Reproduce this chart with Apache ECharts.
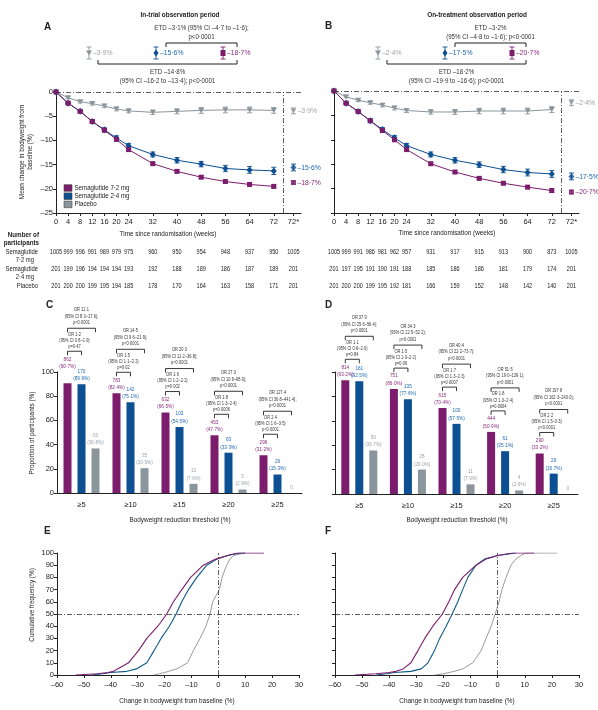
<!DOCTYPE html>
<html><head><meta charset="utf-8">
<script src="https://cdn.jsdelivr.net/npm/echarts@6/dist/echarts.min.js"></script>
<style>html,body{margin:0;padding:0;background:#fff}#c{width:598px;height:710px}</style>
</head><body><div id="c"></div>
<script>
// ---------------- DATA ----------------
const weeks = [0,4,8,12,16,20,24,32,40,48,56,64,72];
const trialP = [0,-2.3,-4.0,-6.1,-7.9,-9.8,-11.9,-14.8,-16.4,-17.6,-18.5,-19.1,-19.5];
const trialB = [0,-2.3,-4.0,-6.1,-7.8,-9.5,-11.1,-12.9,-14.1,-14.9,-15.8,-16.1,-16.3];
const trialG = [0,-1.2,-2.0,-2.4,-2.9,-3.5,-3.9,-4.2,-4.0,-3.8,-3.7,-3.7,-3.8];
const trialErrP = [0,0.15,0.2,0.2,0.2,0.25,0.25,0.25,0.3,0.3,0.3,0.3,0.3];
const trialErrB = [0,0.25,0.3,0.35,0.4,0.45,0.45,0.5,0.55,0.55,0.65,0.7,0.75];
const trialErrG = [0,0.2,0.25,0.3,0.35,0.4,0.4,0.45,0.5,0.6,0.6,0.6,0.6];
const treatP = [0,-2.5,-4.2,-6.1,-8.1,-10.0,-12.0,-14.9,-16.6,-17.9,-18.9,-19.7,-20.4];
const treatB = [0,-2.5,-4.2,-6.1,-7.9,-9.6,-11.2,-13.0,-14.2,-15.1,-16.1,-16.7,-17.0];
const treatG = [0,-1.2,-1.9,-2.4,-2.9,-3.5,-4.0,-4.3,-4.3,-4.1,-4.1,-4.1,-3.8];
const treatErrP = [0,0.15,0.2,0.2,0.2,0.25,0.25,0.25,0.3,0.3,0.3,0.3,0.35];
const treatErrB = [0,0.25,0.3,0.35,0.4,0.45,0.45,0.5,0.55,0.55,0.65,0.7,0.7];
const treatErrG = [0,0.2,0.25,0.3,0.35,0.4,0.4,0.45,0.5,0.55,0.6,0.6,0.6];
// final (72*) values, order: placebo, 2.4 mg, 7.2 mg
const finalTrial = [-3.9,-15.6,-18.7];
const finalTrialErr = [0.6,0.7,0.3];
const finalTreat = [-2.4,-17.5,-20.7];
const finalTreatErr = [0.6,0.7,0.35];
const etdTrialUpper = "ETD –3·1% (95% CI –4·7 to –1·6);\np<0·0001";
const etdTrialLower = "ETD –14·8%\n(95% CI –16·2 to –13·4); p<0·0001";
const etdTreatUpper = "ETD –3·2%\n(95% CI –4·8 to –1·6); p<0·0001";
const etdTreatLower = "ETD –18·2%\n(95% CI –19·9 to –16·6); p<0·0001";
// number of participants (weeks + 72*)
const nTrialP = [1005,999,996,991,989,979,975,960,950,954,948,937,950,1005];
const nTrialB = [201,199,196,194,194,194,193,192,188,189,186,187,189,201];
const nTrialG = [201,200,200,199,195,194,185,178,170,164,163,158,171,201];
const nTreatP = [1005,999,991,986,981,962,957,931,917,915,913,900,873,1005];
const nTreatB = [201,197,195,191,190,191,188,185,186,186,181,179,174,201];
const nTreatG = [201,200,200,199,195,192,181,166,159,152,148,142,140,201];
// Bodyweight reduction thresholds
const thresholds = ['≥5','≥10','≥15','≥20','≥25'];
const cNP = [862,783,632,453,296], cPctP = [90.7,82.4,66.5,47.7,31.2];
const cNB = [170,142,103,63,29], cPctB = [89.9,75.1,54.5,33.3,15.3];
const cNG = [63,35,13,5,0], cPctG = [36.8,20.5,7.6,2.9,0];
const cOrSmall = [['OR 1·2','(95% CI 0·8–1·9)','p=0·47'],['OR 1·5','(95% CI 1·1–2·2)','p=0·02'],['OR 1·6','(95% CI 1·2–2·2)','p=0·002'],['OR 1·8','(95% CI 1·3–2·4)','p=0·0006'],['OR 2·4','(95% CI 1·6–3·5)','p<0·0001']];
const cOrBig = [['OR 12·1','(95% CI 8·3–17·6);','p<0·0001'],['OR 14·5','(95% CI 9·6–21·9);','p<0·0001'],['OR 20·3','(95% CI 11·2–36·8);','p<0·0001'],['OR 27·3','(95% CI 10·9–68·0);','p<0·0001'],['OR 127·4','(95% CI 36·8–441·4);','p<0·0001']];
const dNP = [814,751,615,444,290], dPctP = [93.2,86.0,70.4,50.9,33.2];
const dNB = [161,135,100,61,29], dPctB = [92.5,77.6,57.5,35.1,16.7];
const dNG = [50,28,11,4,0], dPctG = [35.7,20.0,7.9,2.9,0];
const dOrSmall = [['OR 1·1','(95% CI 0·6–2·0)','p=0·84'],['OR 1·5','(95% CI 1·0–2·2)','p=0·06'],['OR 1·7','(95% CI 1·3–2·3)','p=0·0007'],['OR 1·8','(95% CI 1·3–2·4)','p=0·0004'],['OR 2·2','(95% CI 1·5–3·3)','p<0·0001']];
const dOrBig = [['OR 37·9','(95% CI 25·6–56·4);','p<0·0001'],['OR 34·3','(95% CI 22·5–52·2);','p<0·0001'],['OR 40·4','(95% CI 22·2–73·7);','p<0·0001'],['OR 51·5','(95% CI 19·0–139·1);','p<0·0001'],['OR 197·8','(95% CI 162·3–243·0);','p<0·0001']];
// Cumulative distributions: cumulative frequency levels and change (%) at each level
const cumLevels = [0,1,2,3,5,10,20,30,40,50,60,70,80,90,95,98,100,100];
const eX_P = [-53,-45,-41,-39,-37.5,-33.4,-29.7,-26.6,-22.5,-19.2,-16.7,-13.6,-10.3,-5.6,-1.0,3.5,7,17];
const eX_B = [-47,-43,-40,-34,-30.5,-26.6,-23.9,-21.3,-18.2,-15.7,-13.6,-11.1,-8.0,-4.3,-0.5,3.5,8,10];
const eX_G = [-24,-22,-20,-18.5,-15.5,-11.4,-9.3,-6.8,-4.6,-3.1,-2.1,0.4,1.4,3.1,4.3,5.8,9.9,9.9];
const fX_P = [-52.6,-45,-40,-37.5,-34.9,-32,-29.4,-26.9,-23.9,-20.4,-18,-15.9,-12.9,-8,-4.3,0,5.5,13.5];
const fX_B = [-44.7,-41,-38,-32,-28.2,-25.7,-23.3,-21.4,-19,-16.8,-14.7,-12.9,-11,-8,-4.9,0,6.7,6.7];
const fX_G = [-23.3,-20,-18,-16,-12.9,-9.2,-6.1,-4.3,-2.4,-0.9,0.5,1.6,3.1,4.9,6.7,8.5,10.4,22];

// ---------------- STYLE / LAYOUT ----------------
const FONT = "'Liberation Sans','Arimo',Arial,sans-serif";
const COL = {p:'#7b1d6c', b:'#0c4f93', g:'#8b959c'};
const TXT = {p:'#8a2a7b', b:'#1b66b0', g:'#9aa3aa', k:'#333'};
const ECOL = {p:'#7b1d6c', b:'#0f5a8a', g:'#8e8e8e'};
const NAMES = ['Semaglutide 7·2 mg','Semaglutide 2·4 mg','Placebo'];
const DASH = [5,2,1,2];
const STAR = 78.5;
const fmt = v => (v<0?'–':'') + Math.abs(v).toFixed(1).replace('.','·');
const negLab = v => String(v).replace('-','–');

const axisLineS = {lineStyle:{color:'#222',width:1}};
const tickS = {length:3, lineStyle:{color:'#222',width:1}};
const labS = {fontFamily:FONT, fontSize:7.5, color:'#222', margin:3};

// narrow text element (used in custom series and graphic)
function T(text, x, y, o){
  o = o||{};
  return {type:'text', x:x, y:y, scaleX:o.sx||0.8, rotation:o.rot||0, silent:true,
    style:{text:text, x:0, y:0, align:o.align||'center', verticalAlign:o.va||'middle',
      font:(o.bold?'bold ':'')+(o.size||8)+'px '+FONT, fill:o.fill||'#222', lineHeight:o.lh}};
}

function lineGrid(gi, show) {
  return [{
    gridIndex:gi, type:'value', min:0, max:81,
    axisLine:Object.assign({onZero:false},axisLineS),
    axisTick:Object.assign({customValues:[...weeks,STAR]},tickS),
    axisLabel:Object.assign({customValues:[...weeks,STAR], formatter:v=> v===STAR?'72*':String(v)},labS,{margin:5}),
    splitLine:{show:false}
  },{
    gridIndex:gi, type:'value', min:-25, max:0, interval:5,
    axisLine:Object.assign({onZero:false},axisLineS), axisTick:tickS,
    axisLabel:Object.assign({show:show, formatter:negLab},labS),
    splitLine:{show:false}
  }];
}
function errSeries(gi, xs, ys, es, color, cap, z) {
  return {type:'custom', xAxisIndex:gi, yAxisIndex:gi, silent:true, z:z||3,
    data: xs.map((x,i)=>[x, ys[i], es[i]]),
    renderItem(params, api){
      const x=api.value(0), y=api.value(1), e=api.value(2);
      if(!e) return null;
      const t=api.coord([x,y+e]), b=api.coord([x,y-e]); const h=cap/2;
      const st={stroke:color,lineWidth:0.9};
      return {type:'group', children:[
        {type:'line',shape:{x1:t[0],y1:t[1],x2:b[0],y2:b[1]},style:st},
        {type:'line',shape:{x1:t[0]-h,y1:t[1],x2:t[0]+h,y2:t[1]},style:st},
        {type:'line',shape:{x1:b[0]-h,y1:b[1],x2:b[0]+h,y2:b[1]},style:st}]};
    }};
}
const SYM = {p:{symbol:'rect',size:5,rot:0}, b:{symbol:'diamond',size:[6,7],rot:0}, g:{symbol:'triangle',size:[6,5],rot:180}};
function lineSeries(gi, key, name, ys, errs, finalV, finalE) {
  const s = SYM[key];
  return [
    errSeries(gi, weeks, ys, errs, COL[key], 5, 2),
    {type:'line', name:name, xAxisIndex:gi, yAxisIndex:gi, data:weeks.map((w,i)=>[w,ys[i]]),
     symbol:s.symbol, symbolSize:s.size, symbolRotate:s.rot, showAllSymbol:true,
     lineStyle:{color:COL[key],width:1}, itemStyle:{color:COL[key]}, z:4, silent:true},
    errSeries(gi, [STAR], [finalV], [finalE], COL[key], 5, 2),
    {type:'scatter', name:name, xAxisIndex:gi, yAxisIndex:gi, data:[[STAR,finalV]],
     symbol:s.symbol, symbolSize:s.size, symbolRotate:s.rot, itemStyle:{color:COL[key]}, z:4, silent:true},
    {type:'custom', xAxisIndex:gi, yAxisIndex:gi, silent:true, data:[[STAR,finalV]],
     renderItem(params, api){ const c=api.coord([api.value(0),api.value(1)]);
       return T(fmt(api.value(1))+'%', c[0]+4, c[1], {align:'left', fill:TXT[key], sx:0.85}); }}
  ];
}
function guideSeries(gi, vx, ymin, ymax, hy){
  return {type:'line', xAxisIndex:gi, yAxisIndex:gi, data:[], silent:true,
    markLine:{silent:true, symbol:'none', label:{show:false}, animation:false,
      lineStyle:{color:'#333', width:0.8, type:DASH},
      data:[[{coord:[vx,ymin]},{coord:[vx,ymax]}], {yAxis:hy}]}};
}
function tableSeries(gi, rows){
  const xs = [...weeks, STAR];
  return {type:'custom', xAxisIndex:gi, yAxisIndex:gi, silent:true,
    data: xs.map((x,i)=>[x,i]),
    renderItem(params, api){
      const i = params.dataIndex;
      const c = api.coord([api.value(0), -25]);
      const offs=[39,56,73];
      return {type:'group', children: rows.map((r,k)=>T(String(r[i]), c[0], c[1]+offs[k], {size:7.5, sx:0.74}))};
    }};
}
function stripAxes(gi){
  return [{gridIndex:gi, type:'category', data:['g','b','p'], show:false},
          {gridIndex:gi, type:'value', min:-1, max:1, show:false}];
}
function stripSeries(gi, finals, upperTxt, lowerTxt){
  const keys=['g','b','p'];
  return {type:'custom', xAxisIndex:gi, yAxisIndex:gi, silent:true,
    data:[[0,0],[1,0],[2,0]],
    renderItem(params, api){
      const i=params.dataIndex, k=keys[i];
      const c=api.coord([i,0]); const x=c[0], y=c[1];
      const st={stroke:COL[k],lineWidth:0.9};
      const ch=[
        {type:'line',shape:{x1:x,y1:y-6,x2:x,y2:y+6},style:st},
        {type:'line',shape:{x1:x-2.5,y1:y-6,x2:x+2.5,y2:y-6},style:st},
        {type:'line',shape:{x1:x-2.5,y1:y+6,x2:x+2.5,y2:y+6},style:st},
        T(fmt(finals[i])+'%', x+4, y, {align:'left', fill:TXT[k], sx:0.85})
      ];
      if(k==='p') ch.push({type:'rect',shape:{x:x-2.5,y:y-3,width:5,height:6},style:{fill:COL[k]}});
      if(k==='b') ch.push({type:'polygon',shape:{points:[[x,y-3.5],[x+2.5,y],[x,y+3.5],[x-2.5,y]]},style:{fill:COL[k]}});
      if(k==='g') ch.push({type:'polygon',shape:{points:[[x-3,y-2.5],[x+3,y-2.5],[x,y+2.5]]},style:{fill:COL[k]}});
      if(k==='p'){
        const xb=api.coord([1,0])[0]+10, xg=api.coord([0,0])[0]+9, xe=x+14;
        const bs={stroke:'#222',lineWidth:1,fill:null};
        ch.push({type:'polyline',shape:{points:[[xb,y-6],[xb,y-10],[xe,y-10],[xe,y-6]]},style:bs});
        ch.push({type:'polyline',shape:{points:[[xg,y+7],[xg,y+11],[xe,y+11],[xe,y+7]]},style:bs});
        ch.push(T(upperTxt,(xb+xe)/2,y-12,{va:'bottom',size:7.5,fill:TXT.k,lh:9,sx:0.82}));
        ch.push(T(lowerTxt,(xg+xe)/2,y+14,{va:'top',size:7.5,fill:TXT.k,lh:9,sx:0.82}));
      }
      return {type:'group',children:ch};
    }};
}
function barAxes(gi, show){
  return [{gridIndex:gi, type:'category', data:thresholds,
      axisLine:axisLineS, axisTick:Object.assign({interval:0},tickS), axisLabel:Object.assign({interval:0},labS,{margin:8})},
    {gridIndex:gi, type:'value', min:0, max:100, interval:20,
      axisLine:Object.assign({show:true},axisLineS), axisTick:Object.assign({show:true},tickS),
      axisLabel:Object.assign({show:show},labS), splitLine:{show:false}}];
}
function barSeries(gi, pct, key, name){
  return {type:'bar', name:name, xAxisIndex:gi, yAxisIndex:gi, data:pct, barWidth:8, barGap:'75%',
    itemStyle:{color:COL[key]}, silent:true};
}
function annotSeries(gi, NP,PP,NB,PB,NG,PG, orS, orB, lift){
  return {type:'custom', xAxisIndex:gi, yAxisIndex:gi, silent:true, z:5,
    data: thresholds.map((t,i)=>[i,0]),
    renderItem(params, api){
      const i=params.dataIndex;
      const cx=api.coord([i,0])[0];
      const xp=cx-14, xb=cx, xg=cx+14;
      const tp=api.coord([i,PP[i]])[1]-lift[i], tb=api.coord([i,PB[i]])[1], tg=api.coord([i,PG[i]])[1];
      const ch=[];
      const vl=(x,t,n,p,col)=>ch.push(T(n===0?'0':(n+'\n('+p.toFixed(1).replace('.','·')+'%)'), x, t-2, {va:'bottom', size:6, sx:0.78, fill:col, lh:7.5}));
      vl(xp,tp,NP[i],PP[i],TXT.p); vl(xb,tb,NB[i],PB[i],TXT.b); vl(xg,tg,NG[i],PG[i],TXT.g);
      const sy=tp-21, by=sy-23;
      const bs={stroke:'#222',lineWidth:0.9,fill:null};
      ch.push({type:'polyline',shape:{points:[[xp,sy+4],[xp,sy],[xb,sy],[xb,sy+4]]},style:bs});
      ch.push({type:'polyline',shape:{points:[[xp,by+4],[xp,by],[xg,by],[xg,by+4]]},style:bs});
      ch.push(T(orS[i].join('\n'),(xp+xb)/2,sy-1.5,{va:'bottom',size:5.5,sx:0.72,fill:TXT.k,lh:6.2}));
      ch.push(T(orB[i].join('\n'),(xp+xg)/2,by-2.5,{va:'bottom',size:5.5,sx:0.72,fill:TXT.k,lh:6.5}));
      return {type:'group',children:ch};
    }};
}
function cumAxes(gi, show){
  return [{gridIndex:gi, type:'value', min:-60, max:30, interval:10,
      axisLine:Object.assign({onZero:false},axisLineS), axisTick:tickS, axisLabel:Object.assign({formatter:negLab},labS,{margin:6}),
      splitLine:{show:false}},
    {gridIndex:gi, type:'value', min:0, max:100, interval:10,
      axisLine:Object.assign({onZero:false},axisLineS), axisTick:tickS, axisLabel:Object.assign({show:show},labS),
      splitLine:{show:false}}];
}
function cumSeries(gi, xs, key, name, w){
  return {type:'line', name:name, xAxisIndex:gi, yAxisIndex:gi, data: xs.map((x,i)=>[x,cumLevels[i]]),
    symbol:'none', lineStyle:{color:ECOL[key], width:w}, silent:true, z: key==='g'?2:(key==='b'?3:4)};
}

const grids = [
  {left:56, top:92, width:245, height:121},   // 0 A
  {left:334, top:91, width:245, height:122},  // 1 B
  {left:55.5, top:40, width:201, height:26},  // 2 strip A
  {left:344.5, top:40, width:201, height:26}, // 3 strip B
  {left:57, top:372, width:245, height:121},  // 4 C
  {left:335, top:372, width:243, height:122}, // 5 D
  {left:57, top:553, width:242, height:122},  // 6 E
  {left:335, top:553, width:244, height:122}  // 7 F
];
const axA=lineGrid(0,true), axB=lineGrid(1,false), sA=stripAxes(2), sB=stripAxes(3);
const axC=barAxes(4,true), axD=barAxes(5,false), axE=cumAxes(6,true), axF=cumAxes(7,false);
const xAxis=[axA[0],axB[0],sA[0],sB[0],axC[0],axD[0],axE[0],axF[0]];
const yAxis=[axA[1],axB[1],sA[1],sB[1],axC[1],axD[1],axE[1],axF[1]];

const series = [
  guideSeries(0, 75, -25, 0, 0),
  ...lineSeries(0,'g',NAMES[2],trialG,trialErrG,finalTrial[0],finalTrialErr[0]),
  ...lineSeries(0,'b',NAMES[1],trialB,trialErrB,finalTrial[1],finalTrialErr[1]),
  ...lineSeries(0,'p',NAMES[0],trialP,trialErrP,finalTrial[2],finalTrialErr[2]),
  guideSeries(1, 75, -25, 0, 0),
  ...lineSeries(1,'g',NAMES[2],treatG,treatErrG,finalTreat[0],finalTreatErr[0]),
  ...lineSeries(1,'b',NAMES[1],treatB,treatErrB,finalTreat[1],finalTreatErr[1]),
  ...lineSeries(1,'p',NAMES[0],treatP,treatErrP,finalTreat[2],finalTreatErr[2]),
  tableSeries(0,[nTrialP,nTrialB,nTrialG]),
  tableSeries(1,[nTreatP,nTreatB,nTreatG]),
  stripSeries(2, finalTrial, etdTrialUpper, etdTrialLower),
  stripSeries(3, finalTreat, etdTreatUpper, etdTreatLower),
  barSeries(4,cPctP,'p',NAMES[0]), barSeries(4,cPctB,'b',NAMES[1]), barSeries(4,cPctG,'g',NAMES[2]),
  annotSeries(4,cNP,cPctP,cNB,cPctB,cNG,cPctG,cOrSmall,cOrBig,[11,0,0,0,0]),
  barSeries(5,dPctP,'p',NAMES[0]), barSeries(5,dPctB,'b',NAMES[1]), barSeries(5,dPctG,'g',NAMES[2]),
  annotSeries(5,dNP,dPctP,dNB,dPctB,dNG,dPctG,dOrSmall,dOrBig,[0,0,0,0,0]),
  guideSeries(6, 0, 0, 100, 50),
  cumSeries(6,eX_G,'g',NAMES[2],0.9), cumSeries(6,eX_B,'b',NAMES[1],1.1), cumSeries(6,eX_P,'p',NAMES[0],1.1),
  guideSeries(7, 0, 0, 100, 50),
  cumSeries(7,fX_G,'g',NAMES[2],0.9), cumSeries(7,fX_B,'b',NAMES[1],1.1), cumSeries(7,fX_P,'p',NAMES[0],1.1)
];

const R = Math.PI/2;
const legendKeys = ['p','b','g'];
const legendItems = [];
NAMES.forEach((n,i)=>{
  const y = 188 + i*8.2;
  legendItems.push({type:'rect', silent:true, shape:{x:64, y:y-3.3, width:8, height:6.6},
    style:{fill:COL[legendKeys[i]], stroke:'#444', lineWidth:0.6}});
  legendItems.push(T(n, 74.5, y, {size:7.5, align:'left', sx:0.82}));
});
const graphic = [
  T('In-trial observation period',180,15,{bold:true}),
  T('On-treatment observation period',477,15,{bold:true}),
  T('A',44,27,{bold:true,size:10,align:'left',sx:1}), T('B',325,26,{bold:true,size:10,align:'left',sx:1}),
  T('C',46,305,{bold:true,size:10,align:'left',sx:1}), T('D',325,305,{bold:true,size:10,align:'left',sx:1}),
  T('E',44,531,{bold:true,size:10,align:'left',sx:1}), T('F',325,531,{bold:true,size:10,align:'left',sx:1}),
  T('Number of',39,235,{bold:true,align:'right',sx:0.78}),
  T('participants',39,243,{bold:true,align:'right',sx:0.78}),
  T('Semaglutide',38,252,{size:7.5,align:'right',sx:0.78}),
  T('7·2 mg',34,260,{size:7.5,align:'right',sx:0.78}),
  T('Semaglutide',38,269,{size:7.5,align:'right',sx:0.78}),
  T('2·4 mg',34,277,{size:7.5,align:'right',sx:0.78}),
  T('Placebo',38,286,{size:7.5,align:'right',sx:0.78}),
  T('Time since randomisation (weeks)',168,234,{}),
  T('Time since randomisation (weeks)',447,233,{}),
  T('Mean change in bodyweight from\nbaseline (%)',26,152,{rot:R,lh:8}),
  T('Bodyweight reduction threshold (%)',180,520,{}),
  T('Bodyweight reduction threshold (%)',457,520,{}),
  T('Proportion of participants (%)',32,433,{rot:R}),
  T('Change in bodyweight from baseline (%)',177,701,{}),
  T('Change in bodyweight from baseline (%)',457,701,{}),
  T('Cumulative frequency (%)',32,605,{rot:R}),
  ...legendItems
];

const chart = echarts.init(document.getElementById('c'), null, {renderer:'canvas'});
chart.setOption({
  animation:false, backgroundColor:'#fff',
  textStyle:{fontFamily:FONT},
  grid:grids, xAxis:xAxis, yAxis:yAxis, series:series, graphic:graphic
});
</script></body></html>
